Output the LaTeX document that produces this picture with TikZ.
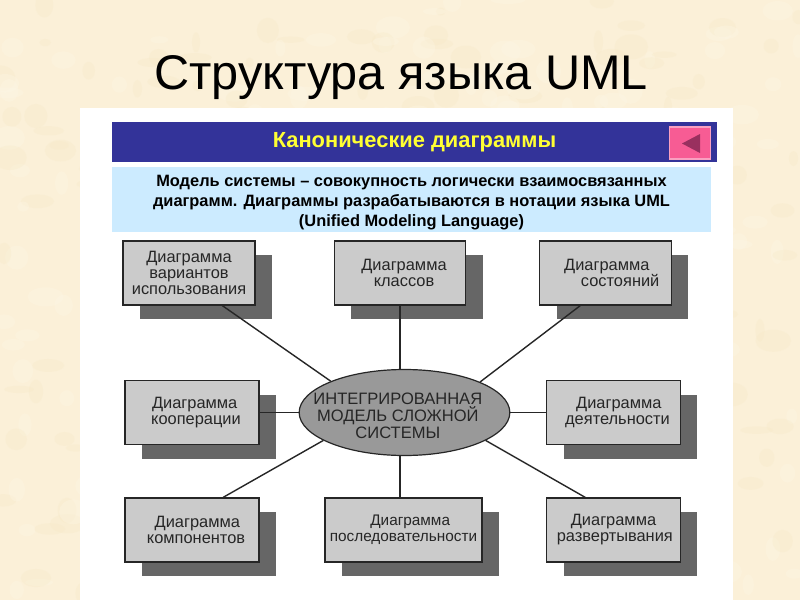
\documentclass[tikz,border=0pt]{standalone}
\usepackage{fontspec}
\setmainfont{Liberation Sans}
\usetikzlibrary{shapes.geometric,shadows,calc}
\definecolor{paper}{HTML}{FBF0D8}
\definecolor{paperlight}{HTML}{FEF7E6}
\definecolor{paperdark}{HTML}{F6E8C4}
\definecolor{headblue}{HTML}{333399}
\definecolor{headyellow}{HTML}{FFFF33}
\definecolor{skyband}{HTML}{CCEBFF}
\definecolor{btnpink}{HTML}{F75C94}
\definecolor{btnframe}{HTML}{F9A0C0}
\definecolor{btndark}{HTML}{99305F}
\definecolor{boxgray}{HTML}{CBCBCB}
\definecolor{shadowgray}{HTML}{666666}
\definecolor{ellgray}{HTML}{999999}
\definecolor{inkgray}{HTML}{262626}
\tikzset{
  px/.style={x=0.75pt,y=-0.75pt},
  diagbox/.style={draw=inkgray,line width=0.9pt,fill=boxgray,inner sep=0pt,align=center,
    text=inkgray,font=\fontsize{12.3}{12}\selectfont,minimum height=48pt,
    drop shadow={shadow xshift=12.6pt,shadow yshift=-10.5pt,fill=shadowgray,opacity=1}},
  link/.style={draw=inkgray,line width=1.05pt},
}
\newcommand{\shiftln}[1]{\hspace*{#1pt}}
\begin{document}
\begin{tikzpicture}[px]
\useasboundingbox (0,0) rectangle (800,600);
\fill[paper] (0,0) rectangle (800,600);
\pgfmathsetseed{7}
\foreach \i in {1,...,420}{
  \pgfmathsetmacro{\bx}{rnd*800}
  \pgfmathsetmacro{\by}{rnd*600}
  \pgfmathsetmacro{\bw}{4+rnd*14}
  \pgfmathsetmacro{\bh}{3+rnd*10}
  \pgfmathtruncatemacro{\bk}{rnd>0.5?1:0}
  \ifnum\bk=1
    \fill[paperlight,opacity=0.3] (\bx,\by) ellipse [x radius=\bw,y radius=\bh];
  \else
    \fill[paperdark,opacity=0.25] (\bx,\by) ellipse [x radius=\bw,y radius=\bh];
  \fi
}
\fill[white] (80,108) rectangle (733,600);

\node[font=\fontsize{36.5}{42}\selectfont,text=black,inner sep=0pt] (title) at (401,78) {Структура языка UML};

\node[fill=headblue,minimum width=453.75pt,minimum height=30pt,inner sep=0pt,
  text=headyellow,font=\bfseries\fontsize{16.4}{19}\selectfont] (head) at (414.5,142) {Канонические диаграммы};
\node[fill=skyband,minimum width=449.25pt,minimum height=48.75pt,inner sep=0pt,
  label={[align=center,text=black,font=\bfseries\fontsize{12.3}{15}\selectfont,yshift=-2pt,inner sep=0pt]center:Модель системы – совокупность логически взаимосвязанных\\
   диаграмм. Диаграммы разрабатываются в нотации языка UML\\
   (Unified Modeling Language)}] (band) at (411.5,199.5) {};

\node[fill=btnpink,draw=btnframe,line width=1.2pt,minimum width=31pt,minimum height=23.6pt,inner sep=0pt] (btn) at (690,143) {};
\fill[btndark] (682,143.5) -- (700,134) -- (700,153) -- cycle;

\node[diagbox,minimum width=99pt] (b1) at (189,273) {Диаграмма\\вариантов\\использования};
\node[diagbox,minimum width=98.6pt] (b2) at (400,273) {\shiftln{6}Диаграмма\\\shiftln{6}классов};
\node[diagbox,minimum width=98.6pt] (b3) at (605.5,273) {\shiftln{2}Диаграмма\\\shiftln{22}состояний};
\node[diagbox,minimum width=100.5pt] (b4) at (192,412.5) {\shiftln{4}Диаграмма\\\shiftln{6}кооперации};
\node[diagbox,minimum width=100pt] (b5) at (613.5,412.5) {\shiftln{8}Диаграмма\\\shiftln{6}деятельности};
\node[diagbox,minimum width=100.5pt] (b6) at (192,530) {\shiftln{8}Диаграмма\\\shiftln{6}компонентов};
\node[diagbox,minimum width=117.75pt,font=\fontsize{11.5}{12}\selectfont] (b7) at (403.5,530) {\shiftln{10}Диаграмма\\последовательности};
\node[diagbox,minimum width=100pt] (b8) at (613.5,530) {Диаграмма\\\shiftln{2}развертывания};

\node[ellipse,draw=inkgray,line width=0.9pt,fill=ellgray,minimum width=158pt,minimum height=64.5pt,inner sep=0pt,
  label={[align=center,text=inkgray,font=\fontsize{12.4}{12.75}\selectfont,xshift=-5pt,yshift=-2.25pt,inner sep=0pt]center:ИНТЕГРИРОВАННАЯ\\МОДЕЛЬ СЛОЖНОЙ\\СИСТЕМЫ}] (core) at (404.5,412.5) {};

\draw[link] ($(b1.south west)!0.75!(b1.south east)$) -- (core.157);
\draw[link] (b2.south) -- (b2.south |- core.north);
\draw[link] ($(b3.south west)!0.31!(b3.south east)$) -- (core.22);
\draw[link] (b4.east) -- (core.west);
\draw[link] (core.east) -- (b5.west);
\draw[link] ($(b6.north west)!0.73!(b6.north east)$) -- (core.199);
\draw[link] (b7.north -| b2.south) -- (b2.south |- core.south);
\draw[link] ($(b8.north west)!0.29!(b8.north east)$) -- (core.341);
\end{tikzpicture}
\end{document}
